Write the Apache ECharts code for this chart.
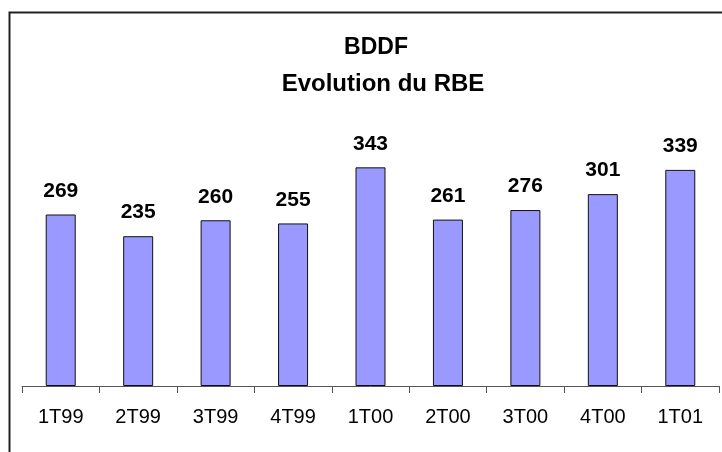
<!DOCTYPE html>
<html>
<head>
<meta charset="utf-8">
<script src="https://cdn.jsdelivr.net/npm/echarts@6/dist/echarts.min.js"></script>
<style>
  html, body { margin: 0; padding: 0; background: #fff; }
  #main { width: 722px; height: 452px; }
</style>
</head>
<body>
<div id="main"></div>
<script>
// quarters and RBE values
var categories = ["1T99", "2T99", "3T99", "4T99", "1T00", "2T00", "3T00", "4T00", "1T01"];
var rbe = [269, 235, 260, 255, 343, 261, 276, 301, 339];

var myChart = echarts.init(document.getElementById("main"));

var font = "Liberation Sans, Arial, sans-serif";

var option = {
  animation: false,
  backgroundColor: "#fff",
  title: [
    {
      text: "BDDF",
      left: 371,
      top: 31,
      textAlign: "center",
      textStyle: { fontFamily: font, fontSize: 23, fontWeight: "bold", color: "#000" },
    },
    {
      text: "Evolution du RBE",
      left: 378,
      top: 67,
      textAlign: "center",
      textStyle: { fontFamily: font, fontSize: 24, fontWeight: "bold", color: "#000" },
    },
  ],
  // frame around the chart (right and bottom edges fall outside the picture)
  graphic: [
    {
      type: "rect",
      left: 7,
      top: 10,
      shape: { width: 740, height: 470 },
      style: { fill: "none", stroke: "#222", lineWidth: 2 },
      silent: true,
    },
  ],
  grid: {
    left: 22,
    right: 3,
    top: 131,
    bottom: 66,
  },
  xAxis: {
    type: "category",
    data: categories,
    axisLine: { lineStyle: { color: "#555", width: 1 } },
    axisTick: { show: true, alignWithLabel: false, length: 7, lineStyle: { color: "#555" } },
    axisLabel: {
      fontFamily: font,
      fontSize: 20,
      color: "#000",
      margin: 21,
    },
  },
  yAxis: {
    type: "value",
    min: 0,
    max: 400,
    show: false,
    splitLine: { show: false },
  },
  series: [
    {
      type: "bar",
      data: rbe,
      barWidth: 30,
      itemStyle: {
        color: "#9999ff",
        borderColor: "#111",
        borderWidth: 1,
      },
      label: {
        show: true,
        position: "top",
        distance: 13,
        fontFamily: font,
        fontSize: 21,
        fontWeight: "bold",
        color: "#000",
      },
    },
  ],
};

myChart.setOption(option);
</script>
</body>
</html>
